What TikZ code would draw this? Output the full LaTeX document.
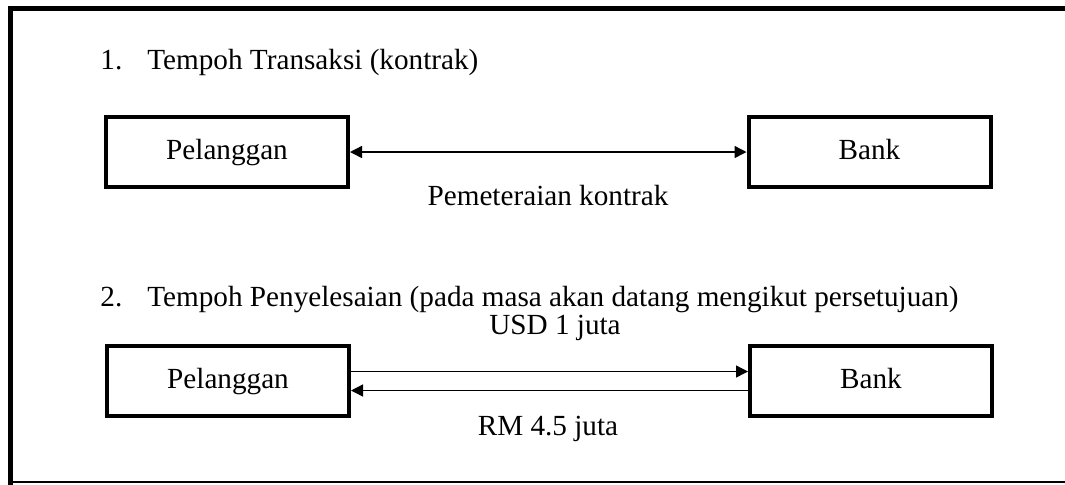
\documentclass[tikz,border=0pt]{standalone}
\usepackage{fontspec}
\setmainfont{Liberation Serif}
\usetikzlibrary{positioning,arrows.meta}
\tikzset{
    party box/.style={rectangle, draw, line width=2pt, minimum width=121pt, minimum height=35pt, inner sep=0pt, text height=10pt, text depth=3pt},
    flow arrow/.style={-{Triangle[length=6pt,width=6pt]}, line width=0.7pt},
    both arrow/.style={{Triangle[length=6pt,width=6pt]}-{Triangle[length=6pt,width=6pt]}, line width=0.7pt},
    stage title/.style={anchor=west, inner sep=0pt}
}
\begin{document}
\begin{tikzpicture}[x=0.5pt, y=-0.5pt, font=\fontsize{14.6}{17}\selectfont]
\useasboundingbox (0,0) rectangle (1065,484);
% outer frame, open on the right
\draw[line width=2.5pt] (1075,8.5) -- (10.5,8.5) -- (10.5,490);
\draw[line width=0.7pt] (10.5,482) -- (1075,482);

% 1. transaction date
\node[stage title] (stage1) at (100,62) {\makebox[23.5pt][l]{1.}Tempoh Transaksi (kontrak)};
\node[party box] (cust1) at (227,152) {Pelanggan};
\node[party box] (bank1) at (869.5,152) {Bank};
\draw[both arrow] (cust1) -- (bank1);
\node (seal) at (548,196) {Pemeteraian kontrak};

% 2. settlement date
\node[stage title] (stage2) at (100,300) {\makebox[23.5pt][l]{2.}Tempoh Penyelesaian (pada masa akan datang mengikut persetujuan)};
\node[party box] (cust2) at (228,381) {Pelanggan};
\node[party box] (bank2) at (871,381) {Bank};
\draw[flow arrow] ([yshift=4.75pt]cust2.east) -- ([yshift=4.75pt]bank2.west);
\draw[flow arrow] ([yshift=-4.75pt]bank2.west) -- ([yshift=-4.75pt]cust2.east);
\node (usd) at (555,328) {USD 1 juta};
\node (myr) at (548,429) {RM 4.5 juta};
\end{tikzpicture}
\end{document}
